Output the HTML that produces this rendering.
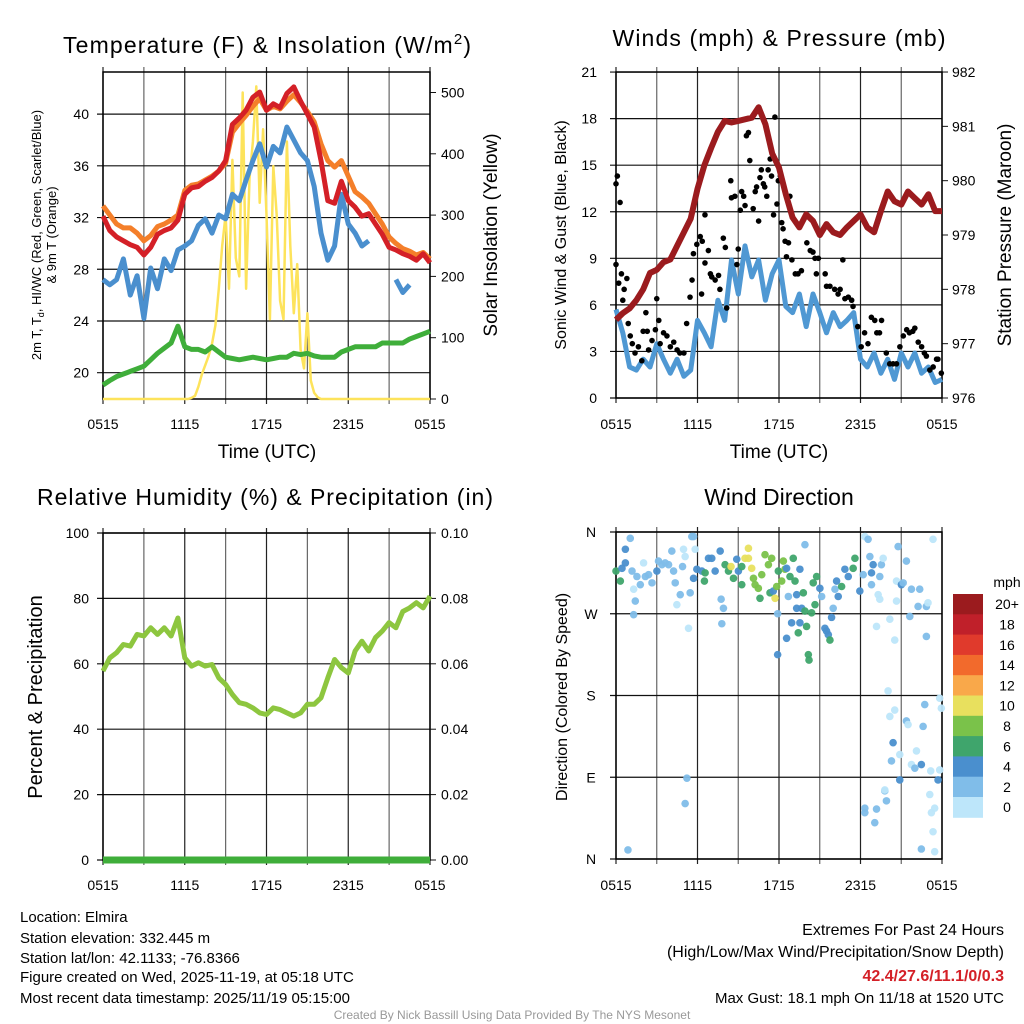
<!DOCTYPE html>
<html><head><meta charset="utf-8">
<style>
html,body{margin:0;padding:0;background:#fff;}
svg{display:block;font-family:"Liberation Sans",sans-serif;}
</style></head>
<body>
<svg id="fig" width="1024" height="1024" viewBox="0 0 1024 1024" xmlns="http://www.w3.org/2000/svg">
<rect width="1024" height="1024" fill="#fff"/>
<g id="p1"></g>
<g id="p2"></g>
<g id="p3"></g>
<g id="p4"></g>
<g font-size="23" text-anchor="middle" fill="#000">
<text x="267" y="53" textLength="408">Temperature (F) &amp; Insolation (W/m<tspan dy="-9" font-size="15">2</tspan><tspan dy="9">)</tspan></text>
<text x="779" y="46" textLength="333">Winds (mph) &amp; Pressure (mb)</text>
<text x="265" y="505" textLength="456">Relative Humidity (%) &amp; Precipitation (in)</text>
<text x="779" y="505">Wind Direction</text>
</g>
<g font-size="19" text-anchor="middle">
<text x="267" y="458">Time (UTC)</text>
<text x="779" y="458">Time (UTC)</text>
</g>
<g font-size="13" text-anchor="middle">
<text transform="translate(41,235) rotate(-90)">2m T, T<tspan font-size="9" dy="3">d</tspan><tspan dy="-3">, HI/WC (Red, Green, Scarlet/Blue)</tspan></text>
<text transform="translate(56,235) rotate(-90)">&amp; 9m T (Orange)</text>
</g>
<text transform="translate(497,235) rotate(-90)" font-size="19" text-anchor="middle">Solar Insolation (Yellow)</text>
<text transform="translate(566,235) rotate(-90)" font-size="16" text-anchor="middle">Sonic Wind &amp; Gust (Blue, Black)</text>
<text transform="translate(1011,235) rotate(-90)" font-size="19" text-anchor="middle">Station Pressure (Maroon)</text>
<text transform="translate(42,697) rotate(-90)" font-size="20" text-anchor="middle">Percent &amp; Precipitation</text>
<text transform="translate(567,697) rotate(-90)" font-size="16" text-anchor="middle">Direction (Colored By Speed)</text>
<g id="cbar"></g>
<g font-size="15" fill="#000">
<text x="20" y="922">Location: Elmira</text>
<text x="20" y="943">Station elevation: 332.445 m</text>
<text x="20" y="963">Station lat/lon: 42.1133; -76.8366</text>
<text x="20" y="982">Figure created on Wed, 2025-11-19, at 05:18 UTC</text>
<text x="20" y="1003">Most recent data timestamp: 2025/11/19 05:15:00</text>
</g>
<g font-size="16" fill="#000" text-anchor="end">
<text x="1004" y="935">Extremes For Past 24 Hours</text>
<text x="1004" y="957">(High/Low/Max Wind/Precipitation/Snow Depth)</text>
<text x="1004" y="981" fill="#d42027" font-weight="bold">42.4/27.6/11.1/0/0.3</text>
<text x="1004" y="1003" font-size="15">Max Gust: 18.1 mph On 11/18 at 1520 UTC</text>
</g>
<text x="512" y="1019" font-size="12" fill="#999" text-anchor="middle">Created By Nick Bassill Using Data Provided By The NYS Mesonet</text>
</svg>
<script>
// ---- data ----
var xTickLabels = ["0515","1115","1715","2315","0515"];
var temp2m = [32.1,31.0,30.5,30.2,29.9,29.7,29.1,29.7,30.7,31.0,31.2,31.8,33.8,34.3,34.4,34.8,35.1,35.6,36.4,39.2,39.7,40.3,41.3,41.7,40.3,40.8,40.5,41.6,42.1,41.0,40.0,39.0,36.4,33.3,33.1,34.8,33.3,32.8,32.1,32.3,31.5,30.7,29.7,29.5,29.2,29.0,28.7,29.2,28.5];
var temp9m = [32.9,32.2,31.5,31.2,31.2,30.8,30.2,30.6,31.3,31.5,31.8,32.2,34.1,34.5,34.6,34.9,35.2,35.6,36.2,38.6,39.3,39.9,40.6,41.2,40.3,40.6,40.4,41.0,41.5,40.9,40.2,39.4,37.7,36.4,35.9,36.4,35.2,34.0,33.6,33.1,32.3,31.5,30.5,30.0,29.6,29.4,29.1,29.3,28.8];
var heatIndex = [27.2,26.8,27.2,28.8,26.0,27.5,24.2,28.1,26.5,28.8,27.9,29.5,29.8,30.2,31.4,31.9,30.8,32.2,31.9,33.8,33.3,34.9,36.4,37.7,35.9,37.5,37.0,39.0,38.0,37.0,36.4,34.4,30.8,28.7,29.8,33.8,31.5,30.8,29.8,30.2,null,null,null,27.2,26.2,26.8,null,null,null];
var dewPoint = [19.05,19.4,19.7,19.9,20.1,20.3,20.5,21.0,21.5,21.9,22.3,23.6,22.0,21.8,21.8,21.6,22.0,21.6,21.2,21.1,21.0,21.1,21.2,21.1,21.0,21.1,21.2,21.2,21.5,21.4,21.5,21.3,21.2,21.2,21.2,21.6,21.8,22.0,22.0,22.0,22.0,22.3,22.3,22.3,22.3,22.6,22.8,23.0,23.2];
var solar = [0,0,0,0,0,0,0,0,0,0,0,0,0,0,0,0,0,0,0,0,0,0,0,0,0,0,2,5,20,40,55,70,90,120,180,250,300,180,390,230,200,500,180,360,420,510,320,440,300,130,380,300,160,130,420,250,140,220,80,50,140,30,10,3,0,0,0,0,0,0,0,0,0,0,0,0,0,0,0,0,0,0,0,0,0,0,0,0,0,0,0,0,0,0,0,0,0];
var tempTicks = [20,24,28,32,36,40];
var solarTicks = [0,100,200,300,400,500];

var windSpeed = [5.7,4.2,2.0,1.8,2.5,2.0,3.5,2.5,1.6,2.5,1.4,1.8,5.0,4.2,3.3,6.3,5.0,8.9,6.7,9.8,7.8,8.9,6.3,8.0,8.9,5.9,5.5,6.7,4.6,6.7,5.5,4.2,5.5,4.6,5.0,5.5,2.5,2.0,2.9,1.6,2.5,1.2,2.9,2.0,2.9,1.6,2.0,1.0,1.2];
var pressure = [977.44,977.56,977.65,977.8,978.0,978.3,978.36,978.5,978.55,978.8,979.05,979.3,979.85,980.28,980.6,980.9,981.1,981.07,981.1,981.13,981.16,981.35,981.04,980.5,980.24,979.75,979.32,979.14,979.38,979.26,979.0,979.2,979.05,979.0,979.14,979.26,979.38,979.14,979.05,979.44,979.8,979.62,979.56,979.8,979.68,979.56,979.75,979.44,979.44];
var gustTime = [0.0,0.1,0.3,0.0,0.2,0.4,0.6,0.5,0.8,0.9,1.05,1.2,1.4,1.65,1.9,2.0,2.3,2.2,2.4,2.65,2.9,3.0,3.15,3.25,3.5,3.75,4.0,4.25,4.5,4.7,5.0,5.2,5.45,5.6,5.7,5.95,6.2,6.35,6.55,6.3,6.55,6.8,6.95,7.05,7.3,7.55,7.65,7.9,8.05,8.15,8.5,8.45,8.75,8.9,9.0,9.15,9.25,9.4,9.5,9.6,9.75,9.85,10.1,10.25,10.35,10.5,10.6,10.7,10.85,10.95,11.1,11.2,11.35,11.45,11.6,11.7,11.85,11.95,12.1,12.2,12.3,12.45,12.55,12.7,12.8,12.95,13.2,13.4,13.65,14.05,14.3,14.5,14.65,14.75,14.9,15.4,15.5,15.75,16.1,16.35,16.5,16.7,16.85,17.1,17.35,17.45,17.8,18.05,18.3,18.55,18.8,19.05,19.2,19.4,19.55,19.9,20.15,20.4,20.65,20.9,21.15,21.4,21.6,21.85,22.0,22.25,22.5,22.7,22.85,23.1,23.35,23.6,23.7,23.95];
var gustSpeed = [13.8,14.3,12.6,8.6,7.4,8.0,7.0,6.3,7.7,4.8,4.0,3.5,2.9,3.3,2.4,4.3,4.3,5.5,3.1,3.7,4.4,6.4,5.0,3.5,4.2,4.0,3.3,3.6,3.1,2.9,2.9,4.8,6.5,7.6,9.3,9.9,10.4,10.1,11.8,6.7,8.7,9.5,8.0,7.8,7.6,7.9,7.0,10.3,9.7,5.8,12.9,14.0,13.0,8.6,9.6,12.1,13.3,13.0,12.4,16.9,17.1,15.3,12.2,13.3,13.6,11.4,14.2,14.7,13.8,13.6,13.0,14.7,15.4,14.3,11.8,18.1,12.5,14.0,14.3,11.3,10.9,10.1,9.1,10.0,13.0,8.9,8.0,8.0,8.2,10.0,9.5,9.4,9.0,8.0,9.0,8.0,7.2,7.2,7.0,6.7,7.0,8.9,6.4,6.5,6.3,5.9,4.6,3.3,4.2,3.5,5.2,5.0,4.2,4.2,5.0,2.9,2.2,2.2,2.2,3.3,4.0,4.4,4.2,4.3,4.5,3.6,3.3,2.9,2.7,1.8,2.0,2.5,2.5,1.6];
var windTicks = [0,3,6,9,12,15,18,21];
var pressureTicks = [976,977,978,979,980,981,982];

var rhValues = [57.8,61.8,63.4,65.9,65.4,69,68.5,71,69,71,68.5,74,61.8,59.3,60.3,59.3,59.8,55.7,53.7,50.6,48.1,47.6,46.5,45,44.5,46.5,46,45,44,45,47.6,47.6,49.6,55.7,61.3,58.8,57.2,63.9,66.9,63.9,68,70,72.6,71,76,77.1,78.7,77.1,80.7];
var precipValues = [0,0,0,0,0,0,0,0,0,0,0,0,0,0,0,0,0,0,0,0,0,0,0,0,0,0,0,0,0,0,0,0,0,0,0,0,0,0,0,0,0,0,0,0,0,0,0,0,0];
var rhTicks = [0,20,40,60,80,100];
var precipTicks = ["0.00","0.02","0.04","0.06","0.08","0.10"];

var dirTime = [0.0,0.32,0.44,0.69,0.69,1.05,1.18,1.30,1.42,1.30,
1.54,1.79,2.03,2.16,2.40,2.65,3.01,3.13,3.38,3.62,
3.87,4.11,4.24,4.36,4.48,4.73,4.97,5.09,4.90,5.34,
5.46,5.58,5.83,5.71,5.95,6.32,6.51,6.56,6.81,7.05,
7.30,7.67,7.74,7.91,7.79,8.03,8.28,8.47,8.65,8.89,
9.01,9.26,9.26,9.50,9.75,9.75,9.99,10.12,10.24,10.48,
10.60,10.73,10.97,11.22,11.46,11.34,11.58,11.71,11.83,11.95,
12.20,12.32,12.44,12.56,12.69,12.81,13.05,13.18,13.30,13.54,
13.79,13.91,13.30,13.67,13.91,12.93,13.54,12.56,14.03,13.42,
11.90,11.90,14.16,14.21,14.40,14.65,14.52,14.77,15.01,15.14,
15.38,15.50,15.63,15.75,15.87,15.99,16.12,16.24,16.36,16.61,
16.85,17.10,17.46,17.59,17.95,18.20,18.32,18.56,18.69,18.81,
18.93,18.81,19.18,19.30,19.42,19.54,19.67,19.42,20.03,20.16,
20.52,20.52,20.16,20.40,20.28,20.65,20.65,20.77,20.89,20.89,
21.01,21.38,21.14,21.38,21.50,21.63,21.75,21.75,22.00,22.12,
22.36,22.24,22.48,22.61,22.73,22.85,22.85,22.97,23.17,23.34,
23.10,23.22,23.46,23.34,23.46,22.48,23.71,23.83,23.95,23.83,
18.32,18.32,19.05,19.18,19.79,19.91,19.79,5.22,5.09,0.88,
5.71];
var dirDeg = [317,306,320,341,326,353,317,297,284,269,
311,302,326,311,313,304,317,328,324,326,
324,339,317,304,280,291,341,333,322,254,
293,355,341,309,319,317,306,315,331,331,
317,339,286,276,259,324,317,322,309,330,
317,322,302,331,331,342,320,309,302,298,
287,313,335,324,331,293,295,287,300,317,
306,328,319,320,289,311,331,306,291,319,
293,346,276,276,273,260,260,243,256,249,
270,225,225,219,271,280,304,311,298,289,
254,251,247,241,266,276,297,306,289,300,
319,311,320,331,295,313,355,352,333,315,
324,302,256,291,286,324,331,311,185,264,
241,164,157,128,108,284,306,344,87,115,
302,328,304,152,148,267,297,104,100,119,
297,278,104,146,170,245,278,282,97,352,
71,51,56,30,8,11,87,98,166,177,
56,51,40,55,75,64,76,89,61,10,
355];
var dirSpeed = [7,7,5,5,5,3,3,1,3,3,
3,3,1,3,3,3,5,3,3,3,
3,3,3,3,1,3,1,1,3,1,
3,3,1,5,5,5,7,7,5,5,
5,5,3,3,3,7,7,11,7,5,
5,7,7,11,11,11,11,9,9,9,
7,9,9,9,9,7,5,11,9,7,
9,9,9,5,3,7,7,7,5,5,
7,3,5,5,7,5,5,5,7,7,
3,5,7,7,7,7,7,7,5,3,
5,5,5,7,5,3,3,5,5,7,
5,5,7,7,5,3,1,3,3,5,
5,3,1,1,1,3,1,3,1,1,
1,1,1,5,3,1,1,3,5,1,
5,3,3,3,1,3,3,1,3,1,
3,3,5,3,3,3,3,1,1,1,
1,1,1,1,1,3,5,1,1,1,
3,3,3,3,3,3,1,3,3,3,
3];
var dirTickLabels = ["N","E","S","W","N"];
var speedColors = ["#bde6fa","#80bde9","#4a8fce","#3fa56c","#7ac24a","#e8e05e","#f9a84a","#f26a2c","#e03a2c","#c0202a","#9b1b1e"];
var speedLabels = ["0","2","4","6","8","10","12","14","16","18","20+"];

// ---- helpers ----
var NS = "http://www.w3.org/2000/svg";
function mk(parent, tag, attrs) {
  var e = document.createElementNS(NS, tag);
  for (var k in attrs) e.setAttribute(k, attrs[k]);
  parent.appendChild(e);
  return e;
}
function linePath(vals, xf, yf, step) {
  var d = "", pen = false;
  for (var i = 0; i < vals.length; i++) {
    if (vals[i] === null) { pen = false; continue; }
    d += (pen ? "L" : "M") + xf(i * step).toFixed(1) + "," + yf(vals[i]).toFixed(1);
    pen = true;
  }
  return d;
}
function frame(g, x0, x1, y0, y1, yTicksPix, rTicksPix) {
  for (var h = 0; h <= 24; h += 3) {
    var x = x0 + (x1 - x0) * h / 24;
    var l = mk(g, "line", {x1:x, x2:x, y1:y0-5, y2:y1+5, stroke:(h%6===0?"#222":"#666"), "stroke-width":1.2});
    
    
  }
  yTicksPix.forEach(function (y) {
    var l = mk(g, "line", {x1:x0-6, x2:x1, y1:y, y2:y, stroke:"#111", "stroke-width":1.2});
    
    
  });
  (rTicksPix || []).forEach(function (y) {
    var l = mk(g, "line", {x1:x1, x2:x1+6, y1:y, y2:y, stroke:"#111", "stroke-width":1});
    
    
  });
  var r = mk(g, "rect", {x:x0, y:y0, width:x1-x0, height:y1-y0, fill:"none", stroke:"#000", "stroke-width":1.5});
  
  
}
function xLabels(g, x0, x1, y) {
  xTickLabels.forEach(function (lab, i) {
    var t = mk(g, "text", {x:x0 + (x1 - x0) * i / 4, y:y, "font-size":14, "text-anchor":"middle"});
    t.textContent = lab;
    
    
  });
}
function yLabel(g, x, y, txt, anchor) {
  var t = mk(g, "text", {x:x, y:y + 5, "font-size":14, "text-anchor":anchor});
  t.textContent = txt;
  
  
}

// ---- panel 1 ----
(function () {
  var g = document.getElementById("p1");
  var x0 = 103, x1 = 430, y0 = 72, y1 = 399;
  var X = function (h) { return x0 + (x1 - x0) * h / 24; };
  var YT = function (v) { return 372.7 - (v - 20) * 12.93; };
  var YS = function (w) { return 399 - w * 0.613; };
  frame(g, x0, x1, y0, y1, tempTicks.map(YT), solarTicks.map(YS));
  tempTicks.forEach(function (v) { yLabel(g, 89, YT(v), String(v), "end"); });
  solarTicks.forEach(function (v) { yLabel(g, 441, YS(v), String(v), "start"); });
  xLabels(g, x0, x1, 429);
  var s;
  s = mk(g, "path", {d:linePath(solar, X, YS, 0.25), fill:"none", stroke:"#fde35b", "stroke-width":2.5, "stroke-linejoin":"round"});
  
  
  s = mk(g, "path", {d:linePath(dewPoint, X, YT, 0.5), fill:"none", stroke:"#3fae3a", "stroke-width":5, "stroke-linejoin":"round"});
  
  
  s = mk(g, "path", {d:linePath(heatIndex, X, YT, 0.5), fill:"none", stroke:"#4a8fce", "stroke-width":5, "stroke-linejoin":"round"});
  
  
  s = mk(g, "path", {d:linePath(temp9m, X, YT, 0.5), fill:"none", stroke:"#f47f2a", "stroke-width":5, "stroke-linejoin":"round"});
  
  
  s = mk(g, "path", {d:linePath(temp2m, X, YT, 0.5), fill:"none", stroke:"#d42027", "stroke-width":5, "stroke-linejoin":"round"});
  
  
})();

// ---- panel 2 ----
(function () {
  var g = document.getElementById("p2");
  var x0 = 616, x1 = 942, y0 = 72, y1 = 398;
  var X = function (h) { return x0 + (x1 - x0) * h / 24; };
  var YW = function (v) { return 398 - v * 15.52; };
  var YP = function (p) { return 398 - (p - 976) * 54.33; };
  frame(g, x0, x1, y0, y1, windTicks.map(YW), pressureTicks.map(YP));
  windTicks.forEach(function (v) { yLabel(g, 597, YW(v), String(v), "end"); });
  pressureTicks.forEach(function (v) { yLabel(g, 952, YP(v), String(v), "start"); });
  xLabels(g, x0, x1, 429);
  var s = mk(g, "path", {d:linePath(windSpeed, X, YW, 0.5), fill:"none", stroke:"#4f98d3", "stroke-width":5, "stroke-linejoin":"round"});
  
  
  for (var i = 0; i < gustTime.length; i++) {
    var c = mk(g, "circle", {cx:X(gustTime[i]), cy:YW(gustSpeed[i]), r:2.8, fill:"#000"});
    
    
  }
  s = mk(g, "path", {d:linePath(pressure, X, YP, 0.5), fill:"none", stroke:"#9b1b1e", "stroke-width":6, "stroke-linejoin":"round"});
  
  
})();

// ---- panel 3 ----
(function () {
  var g = document.getElementById("p3");
  var x0 = 103, x1 = 430, y0 = 533, y1 = 860;
  var X = function (h) { return x0 + (x1 - x0) * h / 24; };
  var YR = function (v) { return 860 - v * 3.27; };
  var YPr = function (v) { return 860 - v * 3270; };
  frame(g, x0, x1, y0, y1, rhTicks.map(YR), precipTicks.map(function (t) { return YPr(parseFloat(t)); }));
  rhTicks.forEach(function (v) { yLabel(g, 89, YR(v), String(v), "end"); });
  precipTicks.forEach(function (t) { yLabel(g, 441, YPr(parseFloat(t)), t, "start"); });
  xLabels(g, x0, x1, 890);
  var s = mk(g, "path", {d:linePath(rhValues, X, YR, 0.5), fill:"none", stroke:"#8dc63f", "stroke-width":5, "stroke-linejoin":"round"});
  
  
  s = mk(g, "path", {d:linePath(precipValues, X, YPr, 0.5), fill:"none", stroke:"#3fae3a", "stroke-width":7});
  
  
})();

// ---- panel 4 ----
(function () {
  var g = document.getElementById("p4");
  var x0 = 616, x1 = 942, y0 = 532, y1 = 859;
  var X = function (h) { return x0 + (x1 - x0) * h / 24; };
  var YD = function (d) { return 859 - d * (327 / 360); };
  var ticks = [0, 90, 180, 270, 360];
  frame(g, x0, x1, y0, y1, ticks.map(YD), []);
  ticks.forEach(function (d, i) { yLabel(g, 591, YD(d), dirTickLabels[i], "middle"); });
  xLabels(g, x0, x1, 890);
  var n = Math.min(dirTime.length, dirDeg.length, dirSpeed.length);
  for (var i = 0; i < n; i++) {
    var idx = Math.min(speedColors.length - 1, Math.floor(dirSpeed[i] / 2));
    var c = mk(g, "circle", {cx:X(dirTime[i]), cy:YD(dirDeg[i]), r:3.8, fill:speedColors[idx], "fill-opacity":0.95});
    
    
  }
})();

// ---- colorbar ----
(function () {
  var g = document.getElementById("cbar");
  var top = 594, bh = 20.3, n = speedColors.length;
  var t = mk(g, "text", {x:1007, y:587, "font-size":14, "text-anchor":"middle"});
  t.textContent = "mph";
  
  
  for (var i = 0; i < n; i++) {
    var k = n - 1 - i;
    var r = mk(g, "rect", {x:953, y:top + i * bh, width:30, height:bh + 0.5, fill:speedColors[k]});
    
    
    var l = mk(g, "text", {x:1007, y:top + i * bh + bh / 2 + 5, "font-size":14, "text-anchor":"middle"});
    l.textContent = speedLabels[k];
    
    
  }
})();
</script>
</body></html>
